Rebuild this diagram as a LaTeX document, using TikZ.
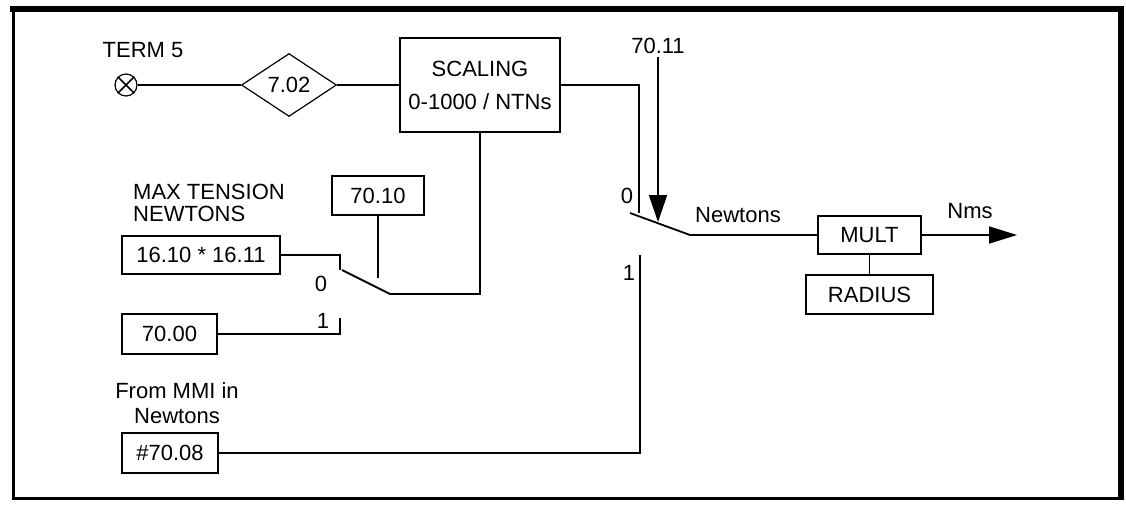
\documentclass[tikz,border=0pt]{standalone}
\usepackage{fontspec}
\setmainfont{Liberation Sans}
\usetikzlibrary{shapes.geometric,arrows.meta}
\begin{document}
\begin{tikzpicture}[x=1pt,y=-1pt,
  every node/.style={font=\fontsize{22}{33}\selectfont},
  wire/.style={line width=1.8pt},
  blk/.style={draw,line width=1.2pt,rectangle,inner sep=0pt},
  lbl/.style={inner sep=0pt},
  tipA/.style={-{Triangle[length=27pt,width=18pt]}},
  tipB/.style={-{Triangle[length=28pt,width=17pt]}}]
\useasboundingbox (0,0) rectangle (1126,504);
% frame
\draw[line width=6pt] (10,9) -- (1124,9);
\draw[line width=6pt] (1121,6) -- (1121,500);
\draw[line width=3pt] (13.5,6) -- (13.5,500);
\draw[line width=3pt] (12,498) -- (1124,498);
% nodes
\node[draw,circle,line width=1.2pt,minimum size=22pt,inner sep=0pt] (term) at (126,85) {};
\draw[line width=1.5pt] (term.north west) -- (term.south east) (term.north east) -- (term.south west);
\node[lbl] (termlbl) at (143,50) {TERM 5};
\node[draw,diamond,aspect=1.5,line width=1.2pt,minimum width=95pt,minimum height=63pt,inner sep=0pt] (d702) at (289,85) {7.02};
\node[blk,minimum width=160pt,minimum height=94pt,align=center] (scal) at (480,85) {SCALING\\0-1000 / NTNs};
\node[blk,minimum width=103pt,minimum height=38pt] (mult) at (869.5,235) {MULT};
\node[blk,minimum width=127pt,minimum height=39pt] (rad) at (869.5,294.5) {RADIUS};
\node[blk,minimum width=92pt,minimum height=39pt] (b7010) at (378,195.5) {70.10};
\node[blk,minimum width=158pt,minimum height=38pt] (b1610) at (201,255) {16.10 * 16.11};
\node[blk,minimum width=95pt,minimum height=40pt] (b7000) at (169.5,334) {70.00};
\node[blk,minimum width=96pt,minimum height=40pt] (b7008) at (170,453) {\#70.08};
\node[lbl,align=left,anchor=west,font=\fontsize{22}{22}\selectfont] (maxlbl) at (133,203) {MAX TENSION\\NEWTONS};
\node[lbl,align=center,font=\fontsize{22}{25}\selectfont] (mmilbl) at (177,403) {From MMI in\\Newtons};
\node[lbl] (l7011) at (658,46) {70.11};
\node[lbl] (lnewt) at (738,215) {Newtons};
\node[lbl] (lnms) at (970,211) {Nms};
\node[lbl] (r0) at (627,196) {0};
\node[lbl] (r1) at (629,273) {1};
\node[lbl] (l0) at (321,284) {0};
\node[lbl] (l1) at (323,321) {1};
% coordinates
\coordinate (rc0) at (639,213);
\coordinate (rbs) at (630,213);
\coordinate (rbe) at (690,235);
\coordinate (rc1) at (640,255);
\coordinate (rc1b) at (640,453);
\coordinate (a7011s) at (658,57);
\coordinate (a7011e) at (658,222);
\coordinate (nmsend) at (1017,235);
\coordinate (lc0) at (340,270);
\coordinate (lbs) at (342,270);
\coordinate (lbe) at (390,294);
\coordinate (lbr) at (480,294);
\coordinate (lc1) at (340,318);
\coordinate (lc1b) at (340,334);
\coordinate (t7010) at (378,278);
% wires
\draw[wire] (term.east) -- (d702.west);
\draw[wire] (d702.east) -- (scal.west);
\draw[wire] (scal.east) -| (rc0);
\draw[wire] (rbs) -- (rbe) -- (mult.west);
\draw[wire,tipA] (a7011s) -- (a7011e);
\draw[wire,tipB] (mult.east) -- (nmsend);
\draw[wire] (mult.south) -- (rad.north);
\draw[wire] (rc1) -- (rc1b) -- (b7008.east);
\draw[wire] (b1610.east) -| (lc0);
\draw[wire] (lbs) -- (lbe) -- (lbr) -- (scal.south);
\draw[wire] (b7010.south) -- (t7010);
\draw[wire] (b7000.east) -- (lc1b) -- (lc1);
\end{tikzpicture}
\end{document}
